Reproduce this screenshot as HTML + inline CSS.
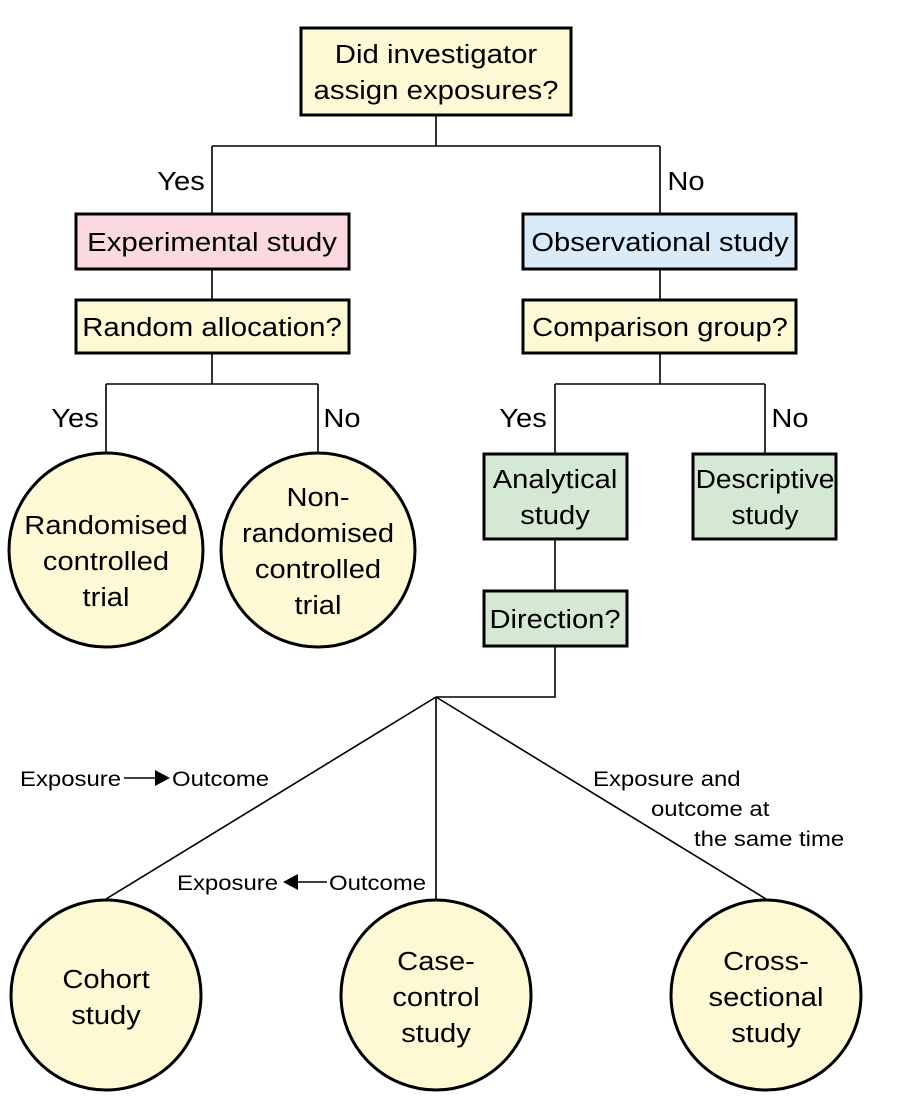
<!DOCTYPE html>
<html><head><style>html,body{margin:0;padding:0;background:#fff}svg{display:block}text{font-family:"Liberation Sans",sans-serif;fill:#000}</style></head>
<body>
<svg width="910" height="1108" viewBox="0 0 910 1108" xmlns="http://www.w3.org/2000/svg">
<g stroke="#000" stroke-width="1.6" fill="none">
<path d="M436 116V146M212 146H660M212 146V213M660 146V213"/>
<path d="M212 270V299M660 270V299"/>
<path d="M212 354V384M106 384H318M106 384V452M318 384V452"/>
<path d="M660 354V384M555 384H765M555 384V453M765 384V453"/>
<path d="M555 540V590M555 647V697H436"/>
<path d="M436 697L106 899M436 697V899M436 697L766 899"/>
<path d="M124 778H155M298 882H327"/>
</g>
<polygon points="155,770 170,778 155,786" fill="#000"/>
<polygon points="298,874 283,882 298,890" fill="#000"/>
<g stroke="#000" stroke-width="3">
<rect x="301" y="28" width="270" height="87" fill="#fdf9d4"/>
<rect x="76" y="214" width="273" height="55" fill="#fbd9e1"/>
<rect x="523" y="214" width="273" height="55" fill="#d9ebf8"/>
<rect x="76" y="300" width="273" height="53" fill="#fdf9d4"/>
<rect x="523" y="300" width="273" height="53" fill="#fdf9d4"/>
<rect x="484" y="454" width="143" height="85" fill="#d5e8d4"/>
<rect x="693" y="454" width="143" height="85" fill="#d5e8d4"/>
<rect x="484" y="591" width="143" height="55" fill="#d5e8d4"/>
<circle cx="106" cy="550" r="97" fill="#fdf9d4"/>
<circle cx="318" cy="550" r="97" fill="#fdf9d4"/>
<circle cx="106" cy="995" r="95" fill="#fdf9d4"/>
<circle cx="436" cy="995" r="95" fill="#fdf9d4"/>
<circle cx="766" cy="995" r="95" fill="#fdf9d4"/>
</g>
<g font-size="26" text-anchor="middle">
<g transform="translate(436,0) scale(1.13,1)"><text x="0" y="63">Did investigator</text><text x="0" y="99">assign exposures?</text></g>
<g transform="translate(212,0) scale(1.13,1)"><text x="0" y="251">Experimental study</text><text x="0" y="336">Random allocation?</text></g>
<g transform="translate(660,0) scale(1.12,1)"><text x="0" y="251">Observational study</text><text x="0" y="336">Comparison group?</text></g>
<g transform="translate(555,0) scale(1.12,1)"><text x="0" y="488">Analytical</text><text x="0" y="524">study</text><text x="0" y="628">Direction?</text></g>
<g transform="translate(765,0) scale(1.08,1)"><text x="0" y="488">Descriptive</text><text x="0" y="524">study</text></g>
<g transform="translate(106,0) scale(1.12,1)"><text x="0" y="534">Randomised</text><text x="0" y="570">controlled</text><text x="0" y="606">trial</text>
<text x="0" y="988">Cohort</text><text x="0" y="1024">study</text></g>
<g transform="translate(318,0) scale(1.12,1)"><text x="0" y="506">Non-</text><text x="0" y="542">randomised</text><text x="0" y="578">controlled</text><text x="0" y="614">trial</text></g>
<g transform="translate(436,0) scale(1.12,1)"><text x="0" y="970">Case-</text><text x="0" y="1006">control</text><text x="0" y="1042">study</text></g>
<g transform="translate(766,0) scale(1.12,1)"><text x="0" y="970">Cross-</text><text x="0" y="1006">sectional</text><text x="0" y="1042">study</text></g>
<g transform="translate(181,0) scale(1.12,1)"><text x="0" y="190">Yes</text></g>
<g transform="translate(686,0) scale(1.12,1)"><text x="0" y="190">No</text></g>
<g transform="translate(75,0) scale(1.12,1)"><text x="0" y="427">Yes</text></g>
<g transform="translate(342,0) scale(1.12,1)"><text x="0" y="427">No</text></g>
<g transform="translate(523,0) scale(1.12,1)"><text x="0" y="427">Yes</text></g>
<g transform="translate(790,0) scale(1.12,1)"><text x="0" y="427">No</text></g>
</g>
<g font-size="21">
<g transform="translate(20,0) scale(1.14,1)"><text x="0" y="786">Exposure</text></g>
<g transform="translate(172,0) scale(1.14,1)"><text x="0" y="786">Outcome</text></g>
<g transform="translate(177,0) scale(1.14,1)"><text x="0" y="890">Exposure</text></g>
<g transform="translate(329,0) scale(1.14,1)"><text x="0" y="890">Outcome</text></g>
<g transform="translate(593,0) scale(1.14,1)"><text x="0" y="786">Exposure and</text></g>
<g transform="translate(651,0) scale(1.14,1)"><text x="0" y="816">outcome at</text></g>
<g transform="translate(694,0) scale(1.14,1)"><text x="0" y="846">the same time</text></g>
</g>
</svg>
</body></html>
